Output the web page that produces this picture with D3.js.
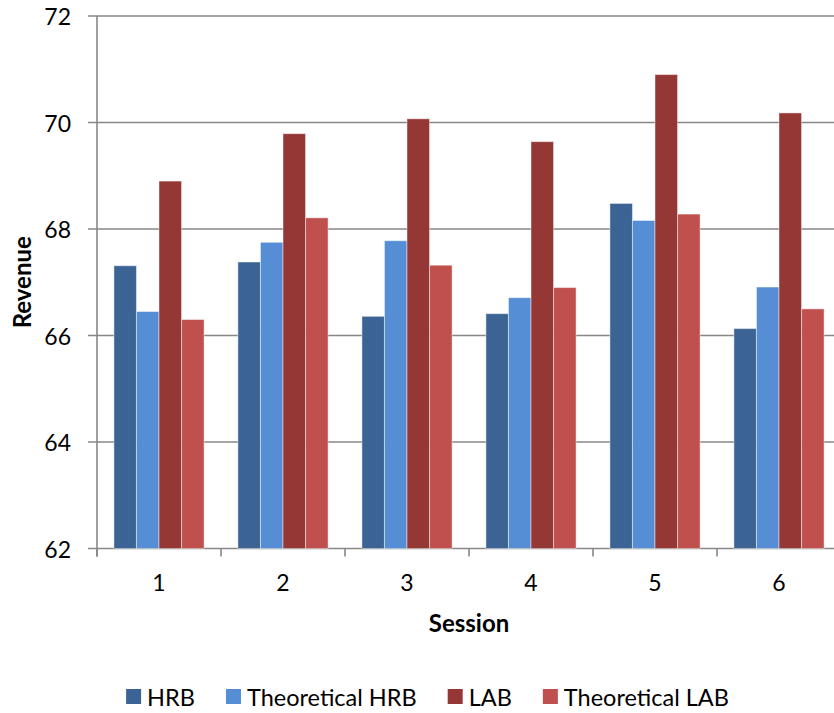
<!DOCTYPE html>
<html>
<head>
<meta charset="utf-8">
<script src="https://cdn.jsdelivr.net/npm/d3@7"></script>
<style>
  html, body { margin: 0; padding: 0; background: #fff; }
  svg { display: block; }
  text { font-family: Lato, "Open Sans", sans-serif; fill: #000; }
</style>
</head>
<body>
<svg id="chart" width="834" height="713"></svg>
<script>
const sessions = ["1", "2", "3", "4", "5", "6"];
const seriesNames = ["HRB", "Theoretical HRB", "LAB", "Theoretical LAB"];
const hrb = [67.31, 67.38, 66.36, 66.41, 68.48, 66.13];
const theoreticalHrb = [66.45, 67.75, 67.78, 66.71, 68.16, 66.91];
const lab = [68.90, 69.79, 70.07, 69.64, 70.90, 70.18];
const theoreticalLab = [66.30, 68.21, 67.32, 66.90, 68.28, 66.50];
const yTicks = [62, 64, 66, 68, 70, 72];
const colors = ["#3b6495", "#558ed5", "#953735", "#c0504d"];
const seriesValues = [hrb, theoreticalHrb, lab, theoreticalLab];

const svg = d3.select("#chart");
const plot = { left: 97, right: 841, top: 16, bottom: 548.5 };

const x0 = d3.scaleBand().domain(sessions).range([plot.left, plot.right]).paddingInner(0).paddingOuter(0);
const x1 = d3.scaleBand().domain(seriesNames).range([0, x0.bandwidth()]).paddingInner(0).paddingOuter(0.75);
const y = d3.scaleLinear().domain([62, 72]).range([plot.bottom, plot.top]);
const color = d3.scaleOrdinal().domain(seriesNames).range(colors);

// gridlines (extend left as tick marks)
svg.append("g").selectAll("line").data(yTicks).join("line")
  .attr("x1", plot.left - 9).attr("x2", plot.right)
  .attr("y1", d => y(d)).attr("y2", d => y(d))
  .attr("stroke", "#878787").attr("stroke-width", 1.6);

// y axis line
svg.append("line")
  .attr("x1", plot.left).attr("x2", plot.left)
  .attr("y1", plot.top).attr("y2", plot.bottom + 8)
  .attr("stroke", "#878787").attr("stroke-width", 1.6);

// x ticks at category boundaries
const boundaries = sessions.map(s => x0(s)).concat([plot.right]);
svg.append("g").selectAll("line").data(boundaries).join("line")
  .attr("x1", d => d).attr("x2", d => d)
  .attr("y1", plot.bottom).attr("y2", plot.bottom + 8)
  .attr("stroke", "#878787").attr("stroke-width", 1.6);

// bars
const rows = sessions.map((s, i) => ({ session: s, values: seriesNames.map((n, k) => ({ name: n, value: seriesValues[k][i] })) }));
const groups = svg.append("g").selectAll("g").data(rows).join("g")
  .attr("transform", d => `translate(${x0(d.session)},0)`);
groups.selectAll("rect").data(d => d.values).join("rect")
  .attr("x", d => x1(d.name))
  .attr("width", x1.bandwidth())
  .attr("y", d => y(d.value))
  .attr("height", d => y(62) - y(d.value))
  .attr("fill", d => color(d.name))
  .attr("stroke", "rgba(255,255,255,0.45)")
  .attr("stroke-width", 1);

// y tick labels
svg.append("g").selectAll("text").data(yTicks).join("text")
  .attr("x", 71).attr("y", d => y(d))
  .attr("text-anchor", "end").attr("dominant-baseline", "central")
  .attr("font-size", 23)
  .text(d => d);

// x tick labels
svg.append("g").selectAll("text").data(sessions).join("text")
  .attr("x", d => x0(d) + x0.bandwidth() / 2).attr("y", 591)
  .attr("text-anchor", "middle")
  .attr("font-size", 23)
  .text(d => d);

// axis titles
svg.append("text")
  .attr("transform", `translate(31,${(plot.top + plot.bottom) / 2}) rotate(-90)`)
  .attr("text-anchor", "middle")
  .attr("font-size", 24).attr("font-weight", "bold")
  .text("Revenue");
svg.append("text")
  .attr("x", 469).attr("y", 632)
  .attr("text-anchor", "middle")
  .attr("font-size", 24).attr("font-weight", "bold")
  .text("Session");

// legend
const legend = svg.append("g");
const items = legend.selectAll("g").data(seriesNames).join("g");
items.append("rect").attr("width", 15).attr("height", 15).attr("y", -7.5).attr("fill", d => color(d));
items.append("text").attr("x", 21).attr("y", 0).attr("dominant-baseline", "central")
  .attr("font-size", 23.5).text(d => d);
let cx = 0;
const gap = 31;
items.each(function () {
  const w = this.getBBox().width;
  d3.select(this).attr("data-x", cx);
  cx += w + gap;
});
const total = cx - gap;
const startX = 427.5 - total / 2;
items.attr("transform", function () { return `translate(${startX + (+this.getAttribute("data-x"))},696.5)`; });
</script>
</body>
</html>
